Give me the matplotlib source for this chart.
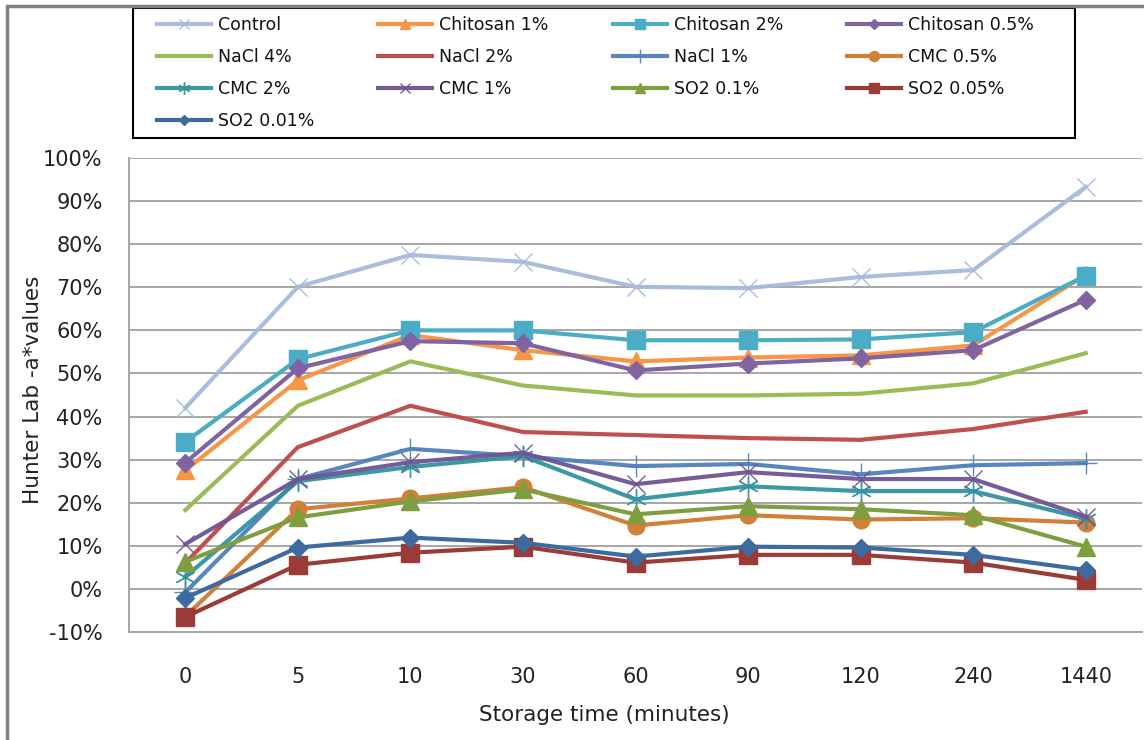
import matplotlib
matplotlib.use("Agg")
import matplotlib.pyplot as plt
from matplotlib.patches import Rectangle
from matplotlib.ticker import FuncFormatter

plt.rcParams['font.family'] = ['DejaVu Sans']

times = ['0', '5', '10', '30', '60', '90', '120', '240', '1440']

control = [42.0, 70.1, 77.5, 75.9, 70.1, 69.8, 72.4, 74.0, 93.3]
chitosan_1 = [27.5, 48.4, 58.9, 55.4, 52.8, 53.7, 54.2, 56.5, 72.9]
chitosan_2 = [34.1, 53.3, 60.0, 60.0, 57.7, 57.7, 57.9, 59.6, 72.7]
chitosan_05 = [29.3, 51.2, 57.5, 57.0, 50.7, 52.3, 53.5, 55.4, 67.1]
nacl_4 = [18.3, 42.5, 52.8, 47.2, 44.9, 44.9, 45.3, 47.7, 54.7]
nacl_2 = [6.0, 32.9, 42.5, 36.4, 35.7, 35.0, 34.6, 37.1, 41.1]
nacl_1 = [-0.8, 25.5, 32.5, 30.8, 28.5, 29.0, 26.6, 28.7, 29.2]
cmc_05 = [-6.4, 18.5, 21.0, 23.6, 14.7, 17.1, 16.1, 16.4, 15.4]
cmc_2 = [2.8, 25.0, 28.3, 30.8, 20.8, 23.8, 22.7, 22.7, 16.3]
cmc_1 = [10.4, 25.5, 29.4, 31.6, 24.3, 27.1, 25.5, 25.5, 16.8]
so2_01 = [6.3, 16.6, 20.3, 23.1, 17.3, 19.2, 18.5, 17.1, 9.8]
so2_005 = [-6.5, 5.6, 8.4, 9.8, 6.1, 7.9, 7.9, 6.1, 2.1]
so2_001 = [-2.1, 9.6, 11.9, 10.7, 7.5, 9.8, 9.6, 7.9, 4.4]

# name, values, colour, marker, marker size, marker edge width
series = [
    ('Control', control, '#A7BADB', 'x', 13, 1.0),
    ('Chitosan 1%', chitosan_1, '#F79646', '^', 13, 0),
    ('Chitosan 2%', chitosan_2, '#4BACC6', 's', 13, 0),
    ('Chitosan 0.5%', chitosan_05, '#8064A2', 'D', 9, 0),
    ('NaCl 4%', nacl_4, '#9BBB59', None, 0, 0),
    ('NaCl 2%', nacl_2, '#C0504D', None, 0, 0),
    ('NaCl 1%', nacl_1, '#4F81BD', '+', 16, 1.0),
    ('CMC 0.5%', cmc_05, '#D27F37', 'o', 12, 0),
    ('CMC 2%', cmc_2, '#31939F', (6, 2, 0), 15, 1.0),
    ('CMC 1%', cmc_1, '#6E5494', 'x', 13, 1.0),
    ('SO2 0.1%', so2_01, '#7E9E40', '^', 13, 0),
    ('SO2 0.05%', so2_005, '#9B3B38', 's', 13, 0),
    ('SO2 0.01%', so2_001, '#3D6A9F', 'D', 9, 0),
]

W, H = 1144, 740
fig = plt.figure(figsize=(W / 100, H / 100), dpi=100)
ax = fig.add_axes([129 / W, 1 - 632 / H, (1142 - 129) / W, (632 - 158) / H])

x = list(range(len(times)))
handles = []
for name, vals, col, mk, ms, mew in series:
    y = [v / 100 for v in vals]
    if mew > 0:
        (h,) = ax.plot(x, y, color=col, lw=3, marker=mk, ms=ms,
                       mec=col, mew=mew, label=name, alpha=0.95)
    else:
        (h,) = ax.plot(x, y, color=col, lw=3, marker=mk, ms=ms,
                       mec=col, mfc=col, label=name)
    handles.append(h)

ax.set_xlim(-0.5, len(times) - 0.5)
ax.set_ylim(-0.1, 1.0)
ax.set_yticks([i / 10 for i in range(-1, 11)])
ax.yaxis.set_major_formatter(FuncFormatter(lambda v, p: f'{v * 100:.0f}%'))
ax.set_xticks(x)
ax.set_xticklabels(times)
ax.grid(axis='y', color='#A6A6A6', lw=1.4)
ax.set_axisbelow(True)
ax.tick_params(length=0, labelsize=15, colors='#222222')
ax.tick_params(axis='y', pad=19)
ax.tick_params(axis='x', pad=25)
for s in ['top', 'right']:
    ax.spines[s].set_visible(False)
for s in ['left', 'bottom']:
    ax.spines[s].set_color('#A6A6A6')
    ax.spines[s].set_linewidth(1.4)

fig.text(604 / W, 1 - 715 / H, 'Storage time (minutes)', ha='center', va='center',
         fontsize=15.5, color='#222222')
fig.text(33 / W, 1 - 390 / H, 'Hunter Lab -a*values', rotation=90,
         ha='center', va='center', fontsize=15.5, color='#222222')

# row-major ordering for a 4-column legend
order = [0, 4, 8, 12, 1, 5, 9, 2, 6, 10, 3, 7, 11]
leg = fig.legend([handles[i] for i in order], [series[i][0] for i in order],
                 ncol=4, loc='upper left', bbox_to_anchor=(157 / W, 1 - 16 / H),
                 borderaxespad=0, fontsize=12.5, handlelength=3.1, columnspacing=3.7,
                 labelspacing=0.8, frameon=False, borderpad=0.0,
                 handletextpad=0.4, markerscale=0.6)
for t in leg.get_texts():
    t.set_color('#111111')

# legend box
fig.patches.append(Rectangle((133 / W, 1 - 138 / H), (1075 - 133) / W, 130 / H,
                             transform=fig.transFigure, fill=False,
                             edgecolor='#000000', lw=1.5, zorder=0))
# chart area border
fig.patches.append(Rectangle((7 / W, -0.05), 1.2, 1 - 6 / H + 0.05,
                             transform=fig.transFigure, fill=False,
                             edgecolor='#808080', lw=2.5, zorder=0))

fig.savefig('out.png', dpi=100)
